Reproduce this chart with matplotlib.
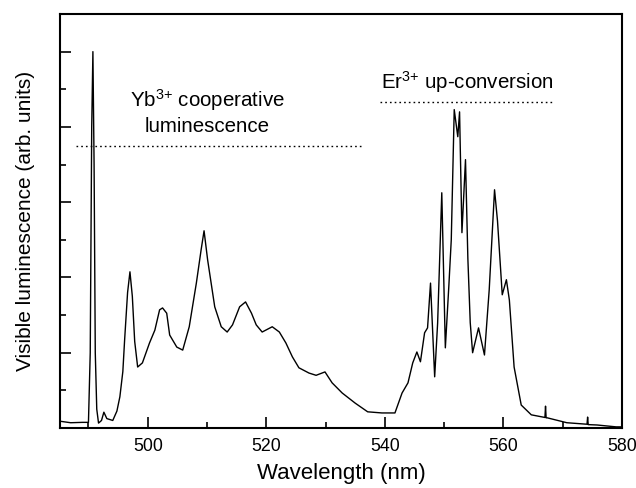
import matplotlib
matplotlib.use('Agg')
import matplotlib.pyplot as plt
from matplotlib.ticker import MultipleLocator

plt.rcParams['font.family'] = ['Liberation Sans', 'DejaVu Sans']
plt.rcParams['mathtext.fontset'] = 'custom'
plt.rcParams['mathtext.rm'] = 'Liberation Sans'
plt.rcParams['mathtext.it'] = 'Liberation Sans'
plt.rcParams['mathtext.default'] = 'regular'

# spectrum (arb. units, 0..11 scale)
wavelength = [485.2, 487.0, 489.0, 490.0, 490.3, 490.55, 490.75, 490.95, 491.15, 491.4,
              491.7, 492.2, 492.6, 493.1, 494.1, 494.8, 495.3, 495.8, 496.1, 496.6,
              497.0, 497.4, 497.8, 498.3, 499.1, 500.3, 501.2, 502.0, 502.5, 503.2,
              503.7, 504.9, 505.9, 507.0, 508.2, 509.0, 509.5, 510.1, 511.3, 512.4,
              513.4, 514.3, 515.5, 516.5, 517.5, 518.3, 519.3, 521.0, 522.2, 523.3,
              524.4, 525.5, 527.2, 528.4, 529.9, 531.1, 532.8, 535.0, 537.1, 539.5,
              541.7, 542.9, 543.9, 544.7, 545.4, 546.0, 546.7, 547.2, 547.7, 548.4,
              548.9, 549.6, 550.2, 550.8, 551.2, 551.7, 552.3, 552.6, 553.0, 553.6,
              554.0, 554.4, 554.8, 555.8, 556.8, 557.6, 558.5, 559.0, 559.8, 560.5,
              561.0, 561.8, 563.0, 564.7, 567.0, 567.1, 567.2, 567.4, 570.7, 574.1,
              574.2, 574.3, 575.8, 579.0, 580.0]
intensity = [0.18, 0.14, 0.15, 0.15, 2.0, 8.0, 10.0, 7.0, 2.0, 0.5,
             0.13, 0.2, 0.42, 0.25, 0.2, 0.45, 0.83, 1.5, 2.34, 3.6,
             4.15, 3.5, 2.3, 1.62, 1.73, 2.26, 2.6, 3.14, 3.19, 3.05,
             2.47, 2.15, 2.07, 2.69, 3.85, 4.73, 5.24, 4.47, 3.22, 2.69,
             2.55, 2.74, 3.22, 3.35, 3.05, 2.74, 2.55, 2.69, 2.55, 2.26,
             1.89, 1.6, 1.46, 1.4, 1.49, 1.2, 0.93, 0.66, 0.43, 0.4,
             0.4, 0.93, 1.2, 1.73, 2.02, 1.76, 2.53, 2.66, 3.85, 1.36,
             2.79, 6.25, 2.13, 3.8, 5.0, 8.46, 7.74, 8.4, 5.19, 7.13,
             4.5, 2.8, 2.0, 2.66, 1.94, 3.67, 6.33, 5.5, 3.54, 3.94,
             3.4, 1.62, 0.61, 0.35, 0.28, 0.58, 0.27, 0.27, 0.14, 0.1,
             0.29, 0.09, 0.08, 0.03, 0.03]

yb_line = ([487.9, 535.9], [7.5, 7.5])
er_line = ([539.1, 568.6], [8.67, 8.67])

fig = plt.figure(figsize=(6.36, 4.88), dpi=100)
ax = fig.add_axes([60 / 636, 1 - 428 / 488, 562 / 636, 414 / 488])

ax.plot(wavelength, intensity, color='black', linewidth=1.0)
ax.plot(*yb_line, color='black', linestyle=(0, (1.2, 2.2)), linewidth=1.0)
ax.plot(*er_line, color='black', linestyle=(0, (1.2, 2.2)), linewidth=1.0)

ax.text(510.1, 8.72, r'Yb$^{3{+}}$ cooperative', ha='center', va='center', fontsize=14.8)
ax.text(510.1, 8.0, 'luminescence', ha='center', va='center', fontsize=14.8)
ax.text(553.9, 9.2, r'Er$^{3{+}}$ up-conversion', ha='center', va='center', fontsize=14.8)

ax.set_xlim(485.2, 580)
ax.set_ylim(0, 11)
ax.xaxis.set_major_locator(MultipleLocator(20))
ax.xaxis.set_minor_locator(MultipleLocator(10))
ax.yaxis.set_major_locator(MultipleLocator(2))
ax.yaxis.set_minor_locator(MultipleLocator(1))
ax.tick_params(which='both', direction='in', top=False, right=False, labelleft=False,
               labelsize=12.8, width=1.2, pad=7)
ax.tick_params(which='major', length=8)
ax.tick_params(which='minor', length=4)
for s in ax.spines.values():
    s.set_linewidth(1.5)

ax.set_xlabel('Wavelength (nm)', fontsize=16, labelpad=6)
ax.set_ylabel('Visible luminescence (arb. units)', fontsize=15, labelpad=18)

fig.savefig('out.png', dpi=100)
